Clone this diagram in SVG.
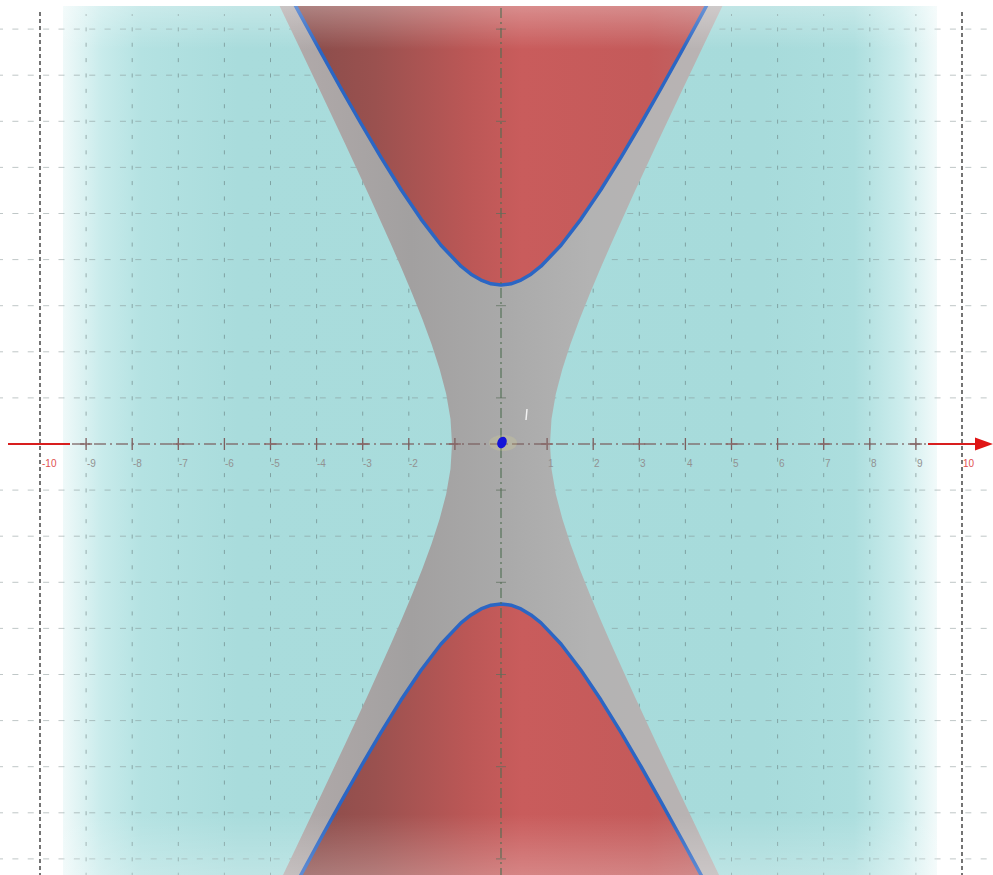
<svg xmlns="http://www.w3.org/2000/svg" width="993" height="875" viewBox="0 0 993 875">
  <defs>
    <style>
      .grid-v { stroke: #5f7373; stroke-width: 1; stroke-dasharray: 4 11.37; stroke-dashoffset: 2; fill: none; opacity: 0.55; }
      .grid-h { stroke: #7f8f8f; stroke-width: 1; stroke-dasharray: 6 9.37; stroke-dashoffset: 3; fill: none; opacity: 0.5; }
      .grid-edge { stroke: #2a2a2a; stroke-width: 1.3; stroke-dasharray: 4 3; fill: none; }
      .curve { fill: none; stroke: #2b66c4; stroke-width: 3.5; stroke-linejoin: round; stroke-linecap: round; }
      .tick { font-family: "Liberation Sans", Arial, sans-serif; font-size: 10px; fill: #929292; }
      .tick-red { font-family: "Liberation Sans", Arial, sans-serif; font-size: 10px; fill: #e05050; }
    </style>
    <linearGradient id="planeH" gradientUnits="userSpaceOnUse" x1="63" y1="0" x2="937" y2="0">
      <stop offset="0" stop-color="#eff9f9"/>
      <stop offset="0.045" stop-color="#c8ebeb"/>
      <stop offset="0.09" stop-color="#b4e2e2"/>
      <stop offset="0.2" stop-color="#a9dcdc"/>
      <stop offset="0.8" stop-color="#a7dbdb"/>
      <stop offset="0.905" stop-color="#acdede"/>
      <stop offset="0.96" stop-color="#cdeded"/>
      <stop offset="1" stop-color="#f2fafa"/>
    </linearGradient>
    <linearGradient id="fadeV" gradientUnits="userSpaceOnUse" x1="0" y1="6" x2="0" y2="875">
      <stop offset="0" stop-color="#ffffff" stop-opacity="0.3"/>
      <stop offset="0.05" stop-color="#ffffff" stop-opacity="0"/>
      <stop offset="0.93" stop-color="#ffffff" stop-opacity="0"/>
      <stop offset="1" stop-color="#ffffff" stop-opacity="0.25"/>
    </linearGradient>
    <linearGradient id="grayG" gradientUnits="userSpaceOnUse" x1="277" y1="0" x2="725" y2="0">
      <stop offset="0" stop-color="#b3abab"/>
      <stop offset="0.3" stop-color="#a2a0a0"/>
      <stop offset="0.5" stop-color="#a9a9a9"/>
      <stop offset="0.7" stop-color="#b3b3b3"/>
      <stop offset="1" stop-color="#bab3b3"/>
    </linearGradient>
    <linearGradient id="redG" gradientUnits="userSpaceOnUse" x1="290" y1="0" x2="712" y2="0">
      <stop offset="0" stop-color="#874c4a"/>
      <stop offset="0.2" stop-color="#9a514f"/>
      <stop offset="0.42" stop-color="#bb5756"/>
      <stop offset="0.55" stop-color="#c95c5c"/>
      <stop offset="0.85" stop-color="#c45a5a"/>
      <stop offset="1" stop-color="#c06464"/>
    </linearGradient>
    <clipPath id="scene">
      <rect x="0" y="6" width="993" height="869"/>
    </clipPath>
  </defs>

  <rect x="0" y="0" width="993" height="875" fill="#ffffff"/>

  <g id="plane" clip-path="url(#scene)">
    <rect x="63" y="6" width="874" height="869" fill="url(#planeH)"/>
  </g>

  <g id="grid">
    <path class="grid-h" d="M0,29.1H993 M0,75.2H993 M0,121.3H993 M0,167.4H993 M0,213.5H993 M0,259.6H993 M0,305.7H993 M0,351.8H993 M0,397.9H993 M0,490.1H993 M0,536.2H993 M0,582.3H993 M0,628.4H993 M0,674.5H993 M0,720.6H993 M0,766.7H993 M0,812.8H993 M0,858.9H993"/>
    <path class="grid-v" d="M86.1,14V875 M132.2,14V875 M178.3,14V875 M224.4,14V875 M270.5,14V875 M316.6,14V875 M362.7,14V875 M408.8,14V875 M454.9,14V875 M547.1,14V875 M593.2,14V875 M639.3,14V875 M685.4,14V875 M731.5,14V875 M777.6,14V875 M823.7,14V875 M869.8,14V875 M915.9,14V875"/>
    <path class="grid-edge" d="M40,12V875 M962,12V875"/>
  </g>

  <g id="hyperboloid" clip-path="url(#scene)">
    <path fill="url(#grayG)" d="M276.7,0 L297.8,44 L321.6,94 L345.2,144 L368.4,194 L390.9,244 L401.8,269 L412.3,294 L422.3,319 L431.5,344 L439.6,369 L446.2,394 L450.5,419 L452,444 L450.5,469 L446.2,494 L439.6,519 L431.5,544 L422.3,569 L412.3,594 L401.8,619 L390.9,644 L368.4,694 L345.2,744 L321.6,794 L297.8,844 L283,875 L719,875 L704.2,844 L680.4,794 L656.8,744 L633.6,694 L611.1,644 L600.2,619 L589.7,594 L579.7,569 L570.5,544 L562.4,519 L555.8,494 L551.5,469 L550,444 L551.5,419 L555.8,394 L562.4,369 L570.5,344 L579.7,319 L589.7,294 L600.2,269 L611.1,244 L633.6,194 L656.8,144 L680.4,94 L704.2,44 L725.3,0 Z"/>
  </g>

  <g id="upper-sheet" clip-path="url(#scene)">
    <path fill="url(#redG)" d="M291,-2.6 L301,15.9 L321,52.5 L341,88.5 L361,123.5 L381,157.4 L401,189.5 L421,219.1 L441,245.3 L461,266.2 L471,274.2 L481,280.1 L491,283.8 L501,285 L511,283.8 L521,280.1 L531,274.2 L541,266.2 L561,245.3 L581,219.1 L601,189.5 L621,157.4 L641,123.5 L661,88.5 L681,52.5 L701,15.9 L711,-2.6 Z"/>
    <path class="curve" d="M291,-2.6 L301,15.9 L321,52.5 L341,88.5 L361,123.5 L381,157.4 L401,189.5 L421,219.1 L441,245.3 L461,266.2 L471,274.2 L481,280.1 L491,283.8 L501,285 L511,283.8 L521,280.1 L531,274.2 L541,266.2 L561,245.3 L581,219.1 L601,189.5 L621,157.4 L641,123.5 L661,88.5 L681,52.5 L701,15.9 L711,-2.6"/>
  </g>

  <g id="lower-sheet" clip-path="url(#scene)">
    <path fill="url(#redG)" d="M291,893.4 L301,874.8 L321,838 L341,801.8 L361,766.5 L381,732.4 L401,700.1 L421,670.3 L441,644 L461,622.9 L471,614.9 L481,608.9 L491,605.2 L501,604 L511,605.2 L521,608.9 L531,614.9 L541,622.9 L561,644 L581,670.3 L601,700.1 L621,732.4 L641,766.5 L661,801.8 L681,838 L701,874.8 L711,893.4 Z"/>
    <path class="curve" d="M291,893.4 L301,874.8 L321,838 L341,801.8 L361,766.5 L381,732.4 L401,700.1 L421,670.3 L441,644 L461,622.9 L471,614.9 L481,608.9 L491,605.2 L501,604 L511,605.2 L521,608.9 L531,614.9 L541,622.9 L561,644 L581,670.3 L601,700.1 L621,732.4 L641,766.5 L661,801.8 L681,838 L701,874.8 L711,893.4"/>
  </g>

  <g id="fade" clip-path="url(#scene)">
    <rect x="63" y="6" width="874" height="869" fill="url(#fadeV)"/>
  </g>

  <g id="axes">
    <path d="M501,8V875" stroke="#4f6e52" stroke-width="1.3" stroke-dasharray="10 4 2 4" fill="none" opacity="0.85"/>
    <path d="M496,29.1h10 M496,121.3h10 M496,213.5h10 M496,305.7h10 M496,397.9h10 M496,490.1h10 M496,582.3h10 M496,674.5h10 M496,766.7h10 M496,858.9h10" stroke="#5c6e5c" stroke-width="1" opacity="0.7"/>
    <path d="M72,444H928" stroke="#7d6262" stroke-width="1.6" stroke-dasharray="12 4 2 4" fill="none" opacity="0.85"/>
    <path d="M86.1,438v12 M132.2,438v12 M178.3,438v12 M224.4,438v12 M270.5,438v12 M316.6,438v12 M362.7,438v12 M408.8,438v12 M454.9,438v12 M547.1,438v12 M593.2,438v12 M639.3,438v12 M685.4,438v12 M731.5,438v12 M777.6,438v12 M823.7,438v12 M869.8,438v12 M915.9,438v12" stroke="#7d5f5f" stroke-width="1.3"/>
    <path d="M80.1,444h12 M172.3,444h12 M264.5,444h12 M356.7,444h12 M448.9,444h12 M541.1,444h12 M633.3,444h12 M725.5,444h12 M817.7,444h12 M909.9,444h12" stroke="#8a6a6a" stroke-width="1.3"/>
    <path d="M8,444H70 M928,444H978" stroke="#d81e1e" stroke-width="2"/>
    <polygon points="975,437.5 993,444 975,450.5" fill="#e01515"/>
    <path d="M35,444h10 M957,444h10" stroke="#d81e1e" stroke-width="2"/>
  </g>

  <g id="labels">
    <text class="tick-red" x="42" y="467">-10</text>
    <text class="tick" x="87" y="467">-9</text>
    <text class="tick" x="133" y="467">-8</text>
    <text class="tick" x="179" y="467">-7</text>
    <text class="tick" x="225" y="467">-6</text>
    <text class="tick" x="271" y="467">-5</text>
    <text class="tick" x="317" y="467">-4</text>
    <text class="tick" x="363" y="467">-3</text>
    <text class="tick" x="409" y="467">-2</text>
    <text class="tick" x="548" y="467">1</text>
    <text class="tick" x="594" y="467">2</text>
    <text class="tick" x="640" y="467">3</text>
    <text class="tick" x="687" y="467">4</text>
    <text class="tick" x="733" y="467">5</text>
    <text class="tick" x="779" y="467">6</text>
    <text class="tick" x="825" y="467">7</text>
    <text class="tick" x="871" y="467">8</text>
    <text class="tick" x="917" y="467">9</text>
    <text class="tick-red" x="963" y="467">10</text>
  </g>

  <g id="origin-point">
    <ellipse cx="503" cy="443" rx="14" ry="8" fill="#e8e08a" opacity="0.2"/>
    <path d="M527,409 L526,420" stroke="#f2f2f2" stroke-width="1.5"/>
    <ellipse cx="502" cy="442.5" rx="4.5" ry="6" transform="rotate(25 502 442.5)" fill="#1414d8"/>
  </g>
</svg>
